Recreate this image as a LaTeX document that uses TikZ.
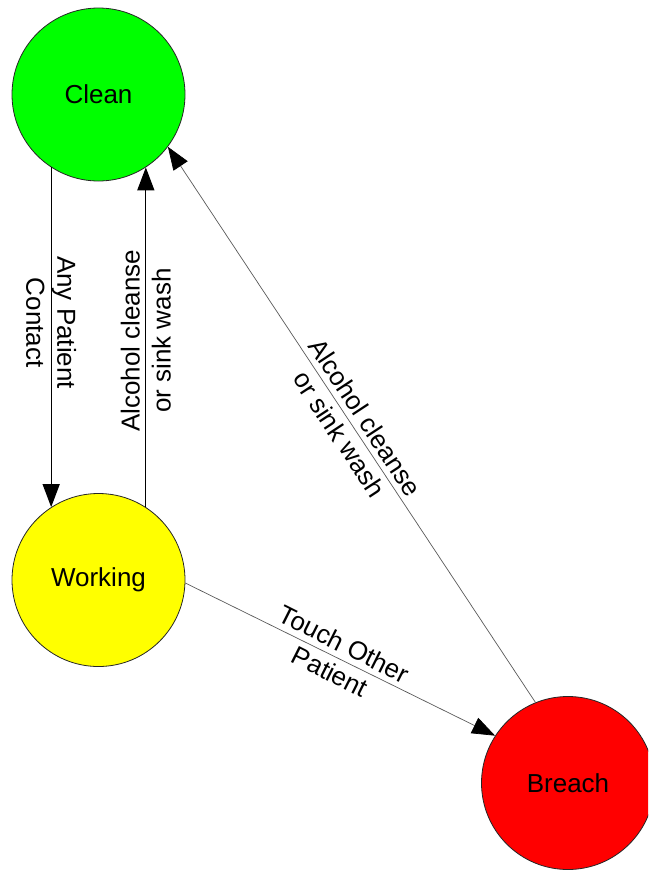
\documentclass[tikz,border=0pt]{standalone}
\usepackage{fontspec}
\setmainfont{Liberation Sans}
\usetikzlibrary{arrows.meta}
\begin{document}
\begin{tikzpicture}[x=1pt,y=-1pt,
  state/.style={circle, draw=black!85, line width=0.8pt, minimum size=173pt, inner sep=0pt,
    font=\fontsize{26}{31}\selectfont},
  tip/.style={-{Triangle[length=23pt,width=17pt,color=black]}},
  vedge/.style={tip, line width=1.3pt, black},
  dedge/.style={tip, line width=0.7pt, draw=black!65},
  elabel/.style={align=center, inner sep=0pt, font=\fontsize{26}{31}\selectfont, text=black}]
\useasboundingbox (0,0) rectangle (648,870);
\clip (0,0) rectangle (648,870);
\node[state, fill={rgb,255:red,0;green,255;blue,0}] (clean) at (98.5,94.5) {Clean};
\node[state, fill={rgb,255:red,255;green,255;blue,0}] (working) at (98.5,580) {Working};
\node[state, fill={rgb,255:red,255;green,0;blue,0}] (breach) at (568,783) {Breach};
\draw[vedge] (clean.-123.3) -- node[elabel, pos=0.457, rotate=-90] {Any Patient\\Contact} (working.123.3);
\draw[vedge] (working.57.5) -- node[elabel, pos=0.49, rotate=90] {Alcohol cleanse\\or sink wash} (clean.-57.5);
\draw[dedge] (breach.112) -- node[elabel, pos=0.498, rotate=-56.7] {Alcohol cleanse\\or sink wash} (clean.-37);
\draw[dedge] (working.-2) -- node[elabel, pos=0.49, rotate=-26.7] {Touch Other\\Patient} (breach.147);
\end{tikzpicture}
\end{document}
